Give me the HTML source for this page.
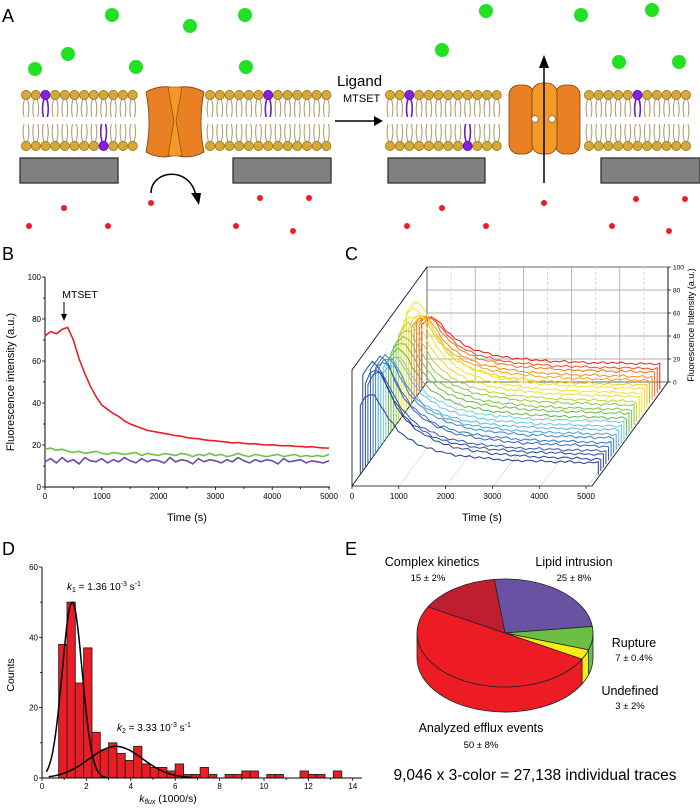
<!DOCTYPE html>
<html><head><meta charset="utf-8"><style>
html,body{margin:0;padding:0;background:#fff;}
svg{display:block;font-family:"Liberation Sans",sans-serif;}
</style></head><body>
<svg id="fig" width="700" height="810" viewBox="0 0 700 810" xmlns="http://www.w3.org/2000/svg">
<g>
<text x="2" y="22" font-size="18">A</text>
<g id="greens" fill="#22e022"></g>
<g id="reds" fill="#ee1c24"></g>
<g id="lipids"></g>
<rect x="20" y="158" width="98" height="25" fill="#808080" stroke="#333" stroke-width="1.3"/>
<rect x="233" y="158" width="98" height="25" fill="#808080" stroke="#333" stroke-width="1.3"/>
<rect x="388" y="158" width="97" height="25" fill="#808080" stroke="#333" stroke-width="1.3"/>
<rect x="601" y="158" width="99" height="25" fill="#808080" stroke="#333" stroke-width="1.3"/>
<g>
<path d="M146,92 Q160,84 175,88 Q190,84 204,92 Q198,122 204,152 Q190,160 175,155 Q160,160 146,152 Q152,122 146,92 Z" fill="#ea8024" stroke="#7a3d0a" stroke-width="0.8"/>
<path d="M168,87 L182,87 L176,121 L182,156 L168,156 L174,121 Z" fill="#f39a26" stroke="#7a3d0a" stroke-width="0.6"/>
</g>
<path d="M151,193 C151,170 190,165 196,196" fill="none" stroke="#000" stroke-width="1.5"/>
<polygon points="191,193 201,193 199,205" fill="#000"/>
<text x="337" y="86" font-size="15">Ligand</text>
<text x="343" y="102" font-size="11">MTSET</text>
<line x1="335" y1="121" x2="376" y2="121" stroke="#000" stroke-width="1.5"/>
<polygon points="374,116 383,121 374,126" fill="#000"/>
<g>
<rect x="509" y="85" width="25" height="69" rx="10" fill="#ea8024" stroke="#7a3d0a" stroke-width="0.8"/>
<rect x="555" y="85" width="25" height="69" rx="10" fill="#ea8024" stroke="#7a3d0a" stroke-width="0.8"/>
<rect x="532" y="83" width="25" height="71" rx="10" fill="#f39a26" stroke="#7a3d0a" stroke-width="0.8"/>
<circle cx="535" cy="119" r="3.3" fill="#fff" stroke="#555" stroke-width="0.6"/>
<circle cx="552" cy="119" r="3.3" fill="#fff" stroke="#555" stroke-width="0.6"/>
</g>
<line x1="544" y1="183" x2="544" y2="65" stroke="#000" stroke-width="1.5"/>
<polygon points="539,68 544,55 549,68" fill="#000"/>
</g>
<g id="panelB">
<text x="2" y="260" font-size="18">B</text>
</g>
<g id="panelC">
<text x="345" y="260" font-size="18">C</text>
</g>
<g id="panelD">
<text x="2" y="555" font-size="18">D</text>
</g>
<g id="panelE">
<text x="345" y="555" font-size="18">E</text>
<text x="432" y="566" font-size="12.5" text-anchor="middle">Complex kinetics</text>
<text x="428" y="581" font-size="9.5" text-anchor="middle">15 ± 2%</text>
<text x="574" y="566" font-size="12.5" text-anchor="middle">Lipid intrusion</text>
<text x="574" y="581" font-size="9.5" text-anchor="middle">25 ± 8%</text>
<text x="634" y="647" font-size="12.5" text-anchor="middle">Rupture</text>
<text x="634" y="661" font-size="9.5" text-anchor="middle">7 ± 0.4%</text>
<text x="630" y="695" font-size="12.5" text-anchor="middle">Undefined</text>
<text x="630" y="709" font-size="9.5" text-anchor="middle">3 ± 2%</text>
<text x="481" y="732" font-size="12.5" text-anchor="middle">Analyzed efflux events</text>
<text x="481" y="748" font-size="9.5" text-anchor="middle">50 ± 8%</text>
<text x="535" y="780" font-size="15.5" text-anchor="middle">9,046 x 3-color = 27,138 individual traces</text>
</g>
</svg>
<script>
// ---------- Panel B data ----------
const timesB = [0,100,200,300,400,500,600,700,800,900,1000,1100,1200,1300,1400,1500,1600,1700,1800,1900,2000,2100,2200,2300,2400,2500,2600,2700,2800,2900,3000,3100,3200,3300,3400,3500,3600,3700,3800,3900,4000,4100,4200,4300,4400,4500,4600,4700,4800,4900,5000];
const redB = [72,74,73,75,76,70,61,54,48,43,39,37,35,33.5,31.5,30,29,28,27,26.5,26,25.5,25,24.5,24.2,23.5,23.2,23,22.5,22.2,22,21.6,21.4,21,21.2,20.8,20.5,20.6,20.2,20,20.1,19.8,19.6,19.7,19.4,19.3,19,19.2,18.8,18.6,18.5];
const greenB = [18,18.5,17.5,18,17,16.5,17,16,16.5,17,16,15.5,16.5,16,15.5,16,16.5,15,16,15.5,15,16,15.5,15,16,15.5,14.5,15.5,15,16,15,15.5,14.5,15,16,15,14.5,15.5,15,14.5,15,15.5,14.5,15,15.5,14.5,15,14.5,15,14.5,15.5];
const purpleB = [12,13.5,11.5,14,12,13,11,14,12.5,12,13.5,11.5,13,12,14,12.5,11.5,13.5,12,13,12.5,11.5,14,12,13,12.5,11,13.5,12,13,12.5,11.5,13,12,14,12.5,11.5,13,12,13,12.5,11,13.5,12,12.5,13,11.5,12.5,12,11.5,12.5];
const yTicksB = [0,20,40,60,80,100];
const xTicksB = [0,1000,2000,3000,4000,5000];
// ---------- Panel C data ----------
const profileC = [0.85,0.95,1,0.97,0.88,0.75,0.64,0.55,0.47,0.41,0.36,0.32,0.28,0.25,0.22,0.2,0.18,0.16,0.145,0.13,0.12,0.11,0.1,0.09,0.085,0.08,0.07,0.065,0.06,0.055,0.05,0.045,0.04,0.038,0.035,0.032,0.03,0.028,0.026,0.024,0.022,0.02,0.018,0.016,0.014,0.012,0.01,0.008,0.006,0.004,0.002];
const noiseC = [0.8,-1.2,1.5,-0.6,0.3,-1.8,1.1,-0.4,2,-1,0.5,-1.5,0.9,-0.2,1.6,-1.3,0.2,-0.8,1.3,-1.7,0.6,-0.3,1.8,-1.1,0.4,-0.9,1.2,-1.6,0.1,-0.5,1.7,-1.4,0.7,-0.1,1,-1.9,0.3,-0.7,1.4,-1.2,0.9,-0.4,1.5,-1,0.2,-1.5,1.1,-0.6,0.5,-1.3,0.8];
const peaksC = [62,66,70,72,75,80,95,92,88,85,82,80,78,75,72,75,70,80,85,82,90,80,85,95,70];
const basesC = [22,21,21,20,20,19,19,18,18,17,17,16,16,15,15,14,14,13,13,12,12,11,11,10,10];
const colorsC = ["#e8201c","#f0501e","#f3751e","#f58a1e","#f5a01e","#f7c81a","#f5e51a","#f3e81c","#e8e41c","#b8d430","#8cc83c","#7cc242","#6cbc44","#62b846","#78ccdc","#6cc4e0","#5ab8e0","#4aa0d8","#3c84cc","#3670c0","#3264b8","#2e58ac","#2a4ca0","#26449a","#223c90"];
const zTicksC = [0,20,40,60,80,100];
const tTicksC = [0,1000,2000,3000,4000,5000];
// ---------- Panel D data ----------
const binStartD = 0.75;
const binWidthD = 0.375;
const countsD = [38,50,27,37,13,8,10,7,5,9,4,3,3,2,4,1,1,3,1,0,1,1,2,2,0,1,1,0,0,2,1,1,0,2];
const gaussAmpD = [50,9];
const gaussMuD = [1.36,3.33];
const gaussSigD = [0.45,1.2];
const gaussRangeD = [[0.2,3.0],[0.3,7.0]];
const yTicksD = [0,20,40,60];
const xTicksD = [0,2,4,6,8,10,12,14];
// ---------- Panel E data ----------
const pieNames = ["lipid-intrusion","rupture","undefined","analyzed-efflux","complex-kinetics"];
const pieValues = [25,7,3,50,15];
const pieColors = ["#6a52a3","#6abd45","#f7ec13","#ed1c24","#be1e2d"];

const NS = "http://www.w3.org/2000/svg";
function mk(tag, attrs, parent){ const e=document.createElementNS(NS,tag); for(const k in attrs) e.setAttribute(k,attrs[k]); parent.appendChild(e); return e; }

// ---------- Panel A generated ----------
(function(){
  const G=document.getElementById('greens'), R=document.getElementById('reds'), L=document.getElementById('lipids');
  const gpos=[[112,15],[190,26],[68,54],[35,69],[136,67],[245,15],[246,67],[486,11],[581,15],[652,10],[442,50],[619,62],[679,62]];
  gpos.forEach(p=>{ const c=mk('circle',{cx:p[0],cy:p[1],r:7},G);
    
     });
  const rpos=[[64,208],[29,226],[108,226],[151,203],[260,198],[309,198],[236,226],[293,231],[442,208],[407,226],[486,226],[544,203],[636,199],[685,199],[612,226],[669,231]];
  rpos.forEach(p=>{ const c=mk('circle',{cx:p[0],cy:p[1],r:3},R);
    
     });
  const segs=[[24,138],[208,331],[388,503],[587,694]];
  const purpleTop=[47,264,412,635], purpleBot=[107,471];
  segs.forEach(s=>{
    for(let x=s[0]+2; x<=s[1]; x+=9.7){
      [[95,1],[146,-1]].forEach(([hy,dir])=>{
        const isP = (dir===1?purpleTop:purpleBot).some(px=>Math.abs(px-x)<5);
        const col = isP?"#6a1fc0":"#b0a070";
        const y0=hy+dir*4, y1=hy+dir*22;
        const t=mk('path',{d:`M${x-1.5},${y0} Q${x-4},${(y0+y1)/2} ${x-2},${y1} M${x+1.5},${y0} Q${x+4},${(y0+y1)/2} ${x+2},${y1}`,fill:'none',stroke:col,'stroke-width':isP?1.6:1.1},L);
        
        
        const h=mk('circle',{cx:x,cy:hy,r:4.6,fill:isP?"#8a1ee0":"#d6a836",stroke:isP?"#4a0a90":"#8a6d1a","stroke-width":0.7},L);
        
        
      });
    }
  });
})();

// ---------- Panel B ----------
(function(){
  const P=document.getElementById('panelB');
  const x0=45,x1=329,y0=487,y1=277;
  const sx=t=>x0+(t/5000)*(x1-x0), sy=v=>y0-(v/100)*(y0-y1);
  let a=mk('line',{x1:x0,y1:y0,x2:x1+1,y2:y0,stroke:'#000','stroke-width':1},P);
   
  a=mk('line',{x1:x0,y1:y0,x2:x0,y2:y1,stroke:'#000','stroke-width':1},P);
   
  for(let t=0;t<=5000;t+=500){ const l=mk('line',{x1:sx(t),y1:y0,x2:sx(t),y2:y0+(t%1000?2:3),stroke:'#000','stroke-width':0.8},P);
      }
  for(let v=0;v<=100;v+=10){ const l=mk('line',{x1:x0,y1:sy(v),x2:x0-(v%20?2:3),y2:sy(v),stroke:'#000','stroke-width':0.8},P);
      }
  xTicksB.forEach(t=>{ const e=mk('text',{x:sx(t),y:y0+12,'font-size':8,'text-anchor':'middle'},P); e.textContent=t;
      });
  yTicksB.forEach(v=>{ const e=mk('text',{x:x0-4,y:sy(v)+3,'font-size':8,'text-anchor':'end'},P); e.textContent=v;
      });
  let e=mk('text',{x:187,y:521,'font-size':11,'text-anchor':'middle'},P); e.textContent='Time (s)';
   
  e=mk('text',{x:14,y:382,'font-size':11,'text-anchor':'middle',transform:'rotate(-90 14 382)'},P); e.textContent='Fluorescence intensity (a.u.)';
   
  [[purpleB,'#6a4ca6','purple-trace'],[greenB,'#6cc04a','green-trace'],[redB,'#ee1c24','red-trace']].forEach(([s,c,n])=>{
    const d=s.map((v,i)=>(i?'L':'M')+sx(timesB[i]).toFixed(1)+','+sy(v).toFixed(1)).join(' ');
    const p=mk('path',{d:d,fill:'none',stroke:c,'stroke-width':1.6},P);
     
  });
  e=mk('text',{x:80,y:298,'font-size':10.5,'text-anchor':'middle'},P); e.textContent='MTSET';
   
  a=mk('line',{x1:64,y1:302,x2:64,y2:315,stroke:'#000','stroke-width':1},P);
   
  a=mk('polygon',{points:'61,314 67,314 64,321',fill:'#000'},P);
   
})();

// ---------- Panel C ----------
(function(){
  const P=document.getElementById('panelC');
  const bx=427, by=382, dx=-75, dy=104, W=238, H=1.15;
  let r=mk('rect',{x:bx,y:267,width:241,height:115,fill:'none',stroke:'#444','stroke-width':0.8},P);
   
  for(let t=500;t<5000;t+=500){ const l=mk('line',{x1:bx+t/5000*241,y1:267,x2:bx+t/5000*241,y2:382,stroke:t%1000?'#ccc':'#999','stroke-width':0.7,'stroke-dasharray':t%1000?'3,2':'none'},P);
      }
  for(let v=20;v<100;v+=20){ const l=mk('line',{x1:bx,y1:by-v*H,x2:bx+241,y2:by-v*H,stroke:'#999','stroke-width':0.7},P);
      }
  for(let t=1000;t<=5000;t+=1000){ const l=mk('line',{x1:352+t/5000*236,y1:486,x2:bx+t/5000*241,y2:382,stroke:'#ccc','stroke-width':0.6},P);
      }
  [[352,486,592,486],[352,486,427,382],[592,486,668,382],[352,370,427,267],[352,370,352,486],[668,267,668,382]].forEach(c=>{
    const l=mk('line',{x1:c[0],y1:c[1],x2:c[2],y2:c[3],stroke:'#000','stroke-width':0.8},P);
      });
  const N=peaksC.length;
  for(let k=0;k<N;k++){
    const f=0.07+k*(0.82/(N-1));
    const ox=bx+dx*f, oy=by+dy*f;
    const vals=profileC.map((p,i)=>basesC[k]+(peaksC[k]-basesC[k])*p+0.7*noiseC[(i+k*7)%noiseC.length]);
    const px=i=>ox+(timesB[i]/5000)*W, py=v=>oy-v*H;
    const d='M'+px(0).toFixed(1)+','+oy.toFixed(1)+' '+vals.map((v,i)=>'L'+px(i).toFixed(1)+','+py(v).toFixed(1)).join(' ')+' L'+px(vals.length-1).toFixed(1)+','+oy.toFixed(1);
    const p=mk('path',{d:d,fill:'none',stroke:colorsC[k],'stroke-width':1},P);
    
    
  }
  zTicksC.forEach(v=>{ const l=mk('line',{x1:668,y1:by-v*H,x2:671,y2:by-v*H,stroke:'#000','stroke-width':0.7},P);
     
    const e=mk('text',{x:673,y:by-v*H+2.5,'font-size':6.5},P); e.textContent=v;
      });
  tTicksC.forEach(t=>{ const x=352+t/5000*234;
    const l=mk('line',{x1:x,y1:486,x2:x,y2:489,stroke:'#000','stroke-width':0.7},P);
     
    const e=mk('text',{x:x,y:499,'font-size':8,'text-anchor':'middle'},P); e.textContent=t;
      });
  let e=mk('text',{x:482,y:521,'font-size':11,'text-anchor':'middle'},P); e.textContent='Time (s)';
   
  e=mk('text',{x:694,y:325,'font-size':9,'text-anchor':'middle',transform:'rotate(-90 694 325)'},P); e.textContent='Fluorescence Intensity (a.u.)';
   
})();

// ---------- Panel D ----------
(function(){
  const P=document.getElementById('panelD');
  const x0=42, y0=778, y1=567;
  const sx=v=>x0+v*22.2, sy=c=>y0-(c/60)*(y0-y1);
  countsD.forEach((c,i)=>{ if(!c) return;
    const a=binStartD+i*binWidthD;
    const b=mk('rect',{x:sx(a),y:sy(c),width:binWidthD*22.2,height:y0-sy(c),fill:'#ec1c24',stroke:'#222','stroke-width':0.9},P);
    
     });
  let a=mk('line',{x1:x0,y1:y0,x2:362,y2:y0,stroke:'#000','stroke-width':1},P);
   
  a=mk('line',{x1:x0,y1:y0,x2:x0,y2:y1,stroke:'#000','stroke-width':1},P);
   
  for(let v=0;v<=14;v++){ const l=mk('line',{x1:sx(v),y1:y0,x2:sx(v),y2:y0+(v%2?2:3),stroke:'#000','stroke-width':0.8},P);
      }
  for(let c=0;c<=60;c+=10){ const l=mk('line',{x1:x0,y1:sy(c),x2:x0-(c%20?2:3),y2:sy(c),stroke:'#000','stroke-width':0.8},P);
      }
  xTicksD.forEach(v=>{ const e=mk('text',{x:sx(v),y:y0+11,'font-size':8,'text-anchor':'middle'},P); e.textContent=v;
      });
  yTicksD.forEach(c=>{ const e=mk('text',{x:x0-4,y:sy(c)+3,'font-size':8,'text-anchor':'end'},P); e.textContent=c;
      });
  gaussAmpD.forEach((A,g)=>{ const pts=[]; const [lo,hi]=gaussRangeD[g];
    for(let j=0;j<=80;j++){ const v=lo+(hi-lo)*j/80; const c=A*Math.exp(-Math.pow(v-gaussMuD[g],2)/(2*gaussSigD[g]*gaussSigD[g])); pts.push((j?'L':'M')+sx(v).toFixed(1)+','+sy(c).toFixed(1)); }
    const p=mk('path',{d:pts.join(' '),fill:'none',stroke:'#000','stroke-width':1.5},P);
      });
  let e=mk('text',{x:67,y:590,'font-size':10},P);
  e.innerHTML='<tspan font-style="italic">k</tspan><tspan font-size="7" dy="2">1</tspan><tspan dy="-2"> = 1.36 10</tspan><tspan font-size="7" dy="-4">-3</tspan><tspan dy="4"> s</tspan><tspan font-size="7" dy="-4">-1</tspan>';
   
  e=mk('text',{x:117,y:731,'font-size':10},P);
  e.innerHTML='<tspan font-style="italic">k</tspan><tspan font-size="7" dy="2">2</tspan><tspan dy="-2"> = 3.33 10</tspan><tspan font-size="7" dy="-4">-3</tspan><tspan dy="4"> s</tspan><tspan font-size="7" dy="-4">-1</tspan>';
   
  e=mk('text',{x:168,y:802,'font-size':10.5,'text-anchor':'middle'},P);
  e.innerHTML='<tspan font-style="italic">k</tspan><tspan font-size="7" dy="2" font-style="italic">flux</tspan><tspan dy="-2"> (1000/s)</tspan>';
   
  e=mk('text',{x:14,y:675,'font-size':10.5,'text-anchor':'middle',transform:'rotate(-90 14 675)'},P); e.textContent='Counts';
   
})();

// ---------- Panel E ----------
(function(){
  const P=document.getElementById('panelE');
  const cx=505, cy=633, rx=88, ry=54, dep=25, start=-97;
  const total=pieValues.reduce((a,b)=>a+b,0);
  const pt=(deg,yoff)=>{const r=deg*Math.PI/180; return [(cx+rx*Math.cos(r)).toFixed(2),(cy+yoff+ry*Math.sin(r)).toFixed(2)];};
  const slices=[]; let a=start;
  pieValues.forEach((v,i)=>{ const s=a, e=a+v/total*360; slices.push([s,e]); a=e; });
  slices.forEach(([s,e],i)=>{
    for(const off of [0,360]){
      const A=Math.max(s,off===0?0:360), B=Math.min(e,off===0?180:540);
      if(B<=A) continue;
      const p1=pt(A,0),p2=pt(B,0),p3=pt(B,dep),p4=pt(A,dep);
      const d=`M${p1} A${rx},${ry} 0 0 1 ${p2} L${p3} A${rx},${ry} 0 0 0 ${p4} Z`;
      const el=mk('path',{d:d,fill:pieColors[i],stroke:'#222','stroke-width':0.8},P);
      
      
    }
  });
  slices.forEach(([s,e],i)=>{
    const p1=pt(s,0),p2=pt(e,0), large=(e-s)>180?1:0;
    const el=mk('path',{d:`M${cx},${cy} L${p1} A${rx},${ry} 0 ${large} 1 ${p2} Z`,fill:pieColors[i],stroke:'#222','stroke-width':0.8},P);
    
    
  });
})();
</script>
</body></html>
